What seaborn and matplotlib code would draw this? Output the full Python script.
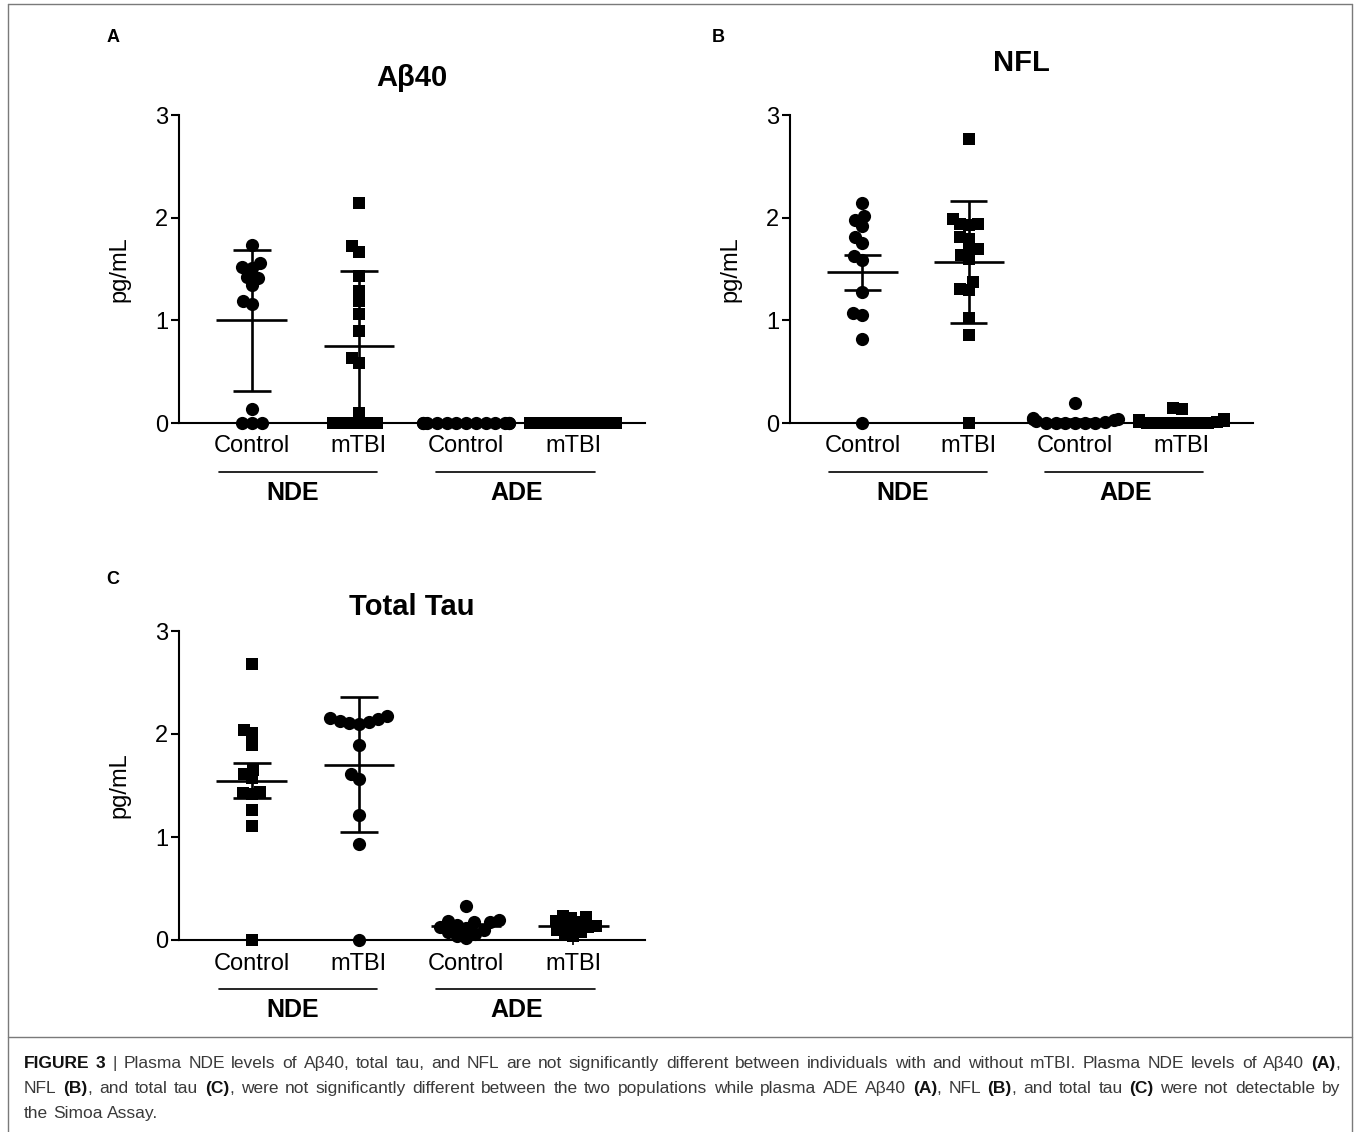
import warnings
import pandas as pd
import matplotlib
matplotlib.use("Agg")
import matplotlib.pyplot as plt
import matplotlib.transforms as mtransforms
import seaborn as sns

warnings.filterwarnings("ignore")

# categories (x positions 0..3) and their tick labels
groups = ["NDE Control", "NDE mTBI", "ADE Control", "ADE mTBI"]
tick_labels = ["Control", "mTBI", "Control", "mTBI"]
brackets = ["NDE", "ADE"]

# --- panel A: Abeta40 (pg/mL) ---
abeta_nde_control = [1.73, 1.52, 1.56, 1.51, 1.42, 1.41, 1.34, 1.19, 1.16, 0.14, 0, 0, 0]
abeta_nde_mtbi = [2.14, 1.72, 1.67, 1.43, 1.29, 1.19, 1.06, 0.90, 0.63, 0.585, 0.10,
                  0, 0, 0, 0, 0, 0]
abeta_ade_control = [0] * 13
abeta_ade_mtbi = [0] * 17

# --- panel B: NFL ---
nfl_nde_control = [2.14, 2.02, 1.92, 1.98, 1.75, 1.81, 1.63, 1.59, 1.28, 1.05, 1.07, 0.82, 0]
nfl_nde_mtbi = [2.77, 1.99, 1.94, 1.93, 1.94, 1.81, 1.79, 1.69, 1.64, 1.69, 1.60, 1.37,
                1.30, 1.31, 1.02, 0.86, 0]
nfl_ade_control = [0.19, 0.05, 0.04, 0.04, 0.03, 0.02, 0.01, 0, 0, 0, 0, 0, 0]
nfl_ade_mtbi = [0.15, 0.14, 0.04, 0.03, 0.03, 0.02, 0.02, 0.01, 0.01, 0, 0, 0, 0, 0, 0, 0, 0]

# --- panel C: total tau ---
tau_nde_control = [2.68, 2.04, 2.01, 1.89, 1.65, 1.61, 1.57, 1.44, 1.42, 1.43, 1.26, 1.11, 0]
tau_nde_mtbi = [2.15, 2.17, 2.13, 2.10, 2.11, 2.16, 2.12, 1.89, 1.61, 1.56, 1.21, 0.93, 0]
tau_ade_control = [0.33, 0.19, 0.18, 0.17, 0.17, 0.15, 0.13, 0.12, 0.10, 0.08, 0.06, 0.04, 0.02]
tau_ade_mtbi = [0.23, 0.22, 0.21, 0.18, 0.17, 0.15, 0.14, 0.13, 0.12, 0.10, 0.08, 0.06, 0.04]

caption_lines = [
    "*FIGURE 3* | Plasma NDE levels of Aβ40, total tau, and NFL are not significantly different "
    "between individuals with and without mTBI. Plasma NDE levels of Aβ40 *(A)*,",
    "NFL *(B)*, and total tau *(C)*, were not significantly different between the two populations "
    "while plasma ADE Aβ40 *(A)*, NFL *(B)*, and total tau *(C)* were not detectable by",
    "the Simoa Assay.",
]

sns.set_theme(style="ticks")
plt.rcParams["font.family"] = ["Liberation Sans", "DejaVu Sans"]
cap_font = ["Liberation Sans Narrow", "Liberation Sans", "DejaVu Sans"]

W, H = 1360, 1132
fig = plt.figure(figsize=(W / 100, H / 100), dpi=100)


def px_axes(left, top, right, bottom):
    return fig.add_axes([left / W, 1 - bottom / H, (right - left) / W, (bottom - top) / H])


def draw_panel(ax, title, values, markers, err_types, title_pad):
    rows = []
    for g, vals in zip(groups, values):
        rows += [(g, v) for v in vals]
    df = pd.DataFrame(rows, columns=["group", "value"])

    for g, m in zip(groups, markers):
        sub = df[df["group"] == g]
        n_before = len(ax.collections)
        sns.swarmplot(data=sub, x="group", y="value", order=groups, marker=m,
                      color="black", size=9.5 if m == "o" else 8.5,
                      linewidth=0, ax=ax, clip_on=False, zorder=3, warn_thresh=1)
        # GraphPad packs the dots tighter than the marker size (they overlap);
        # let the beeswarm layout see a smaller marker than the one drawn
        for pts in ax.collections[n_before:]:
            packed = pts.get_sizes().copy() * 0.5
            pts.get_sizes = lambda s=packed: s

    stats = df.groupby("group", sort=False)["value"].agg(["mean", "std", "sem"])
    for i, g in enumerate(groups):
        mu = stats.loc[g, "mean"]
        e = stats.loc[g, err_types[i]]
        lo = max(mu - e, 0)
        ax.hlines(mu, i - 0.33, i + 0.33, color="black", lw=1.9, zorder=4, clip_on=False)
        ax.vlines(i, lo, mu + e, color="black", lw=1.9, zorder=4, clip_on=False)
        ax.hlines([lo, mu + e], i - 0.175, i + 0.175, color="black", lw=1.9, zorder=4,
                  clip_on=False)

    ax.set_xlim(-0.68, 3.67)
    ax.set_ylim(0, 3)
    ax.set_yticks([0, 1, 2, 3])
    ax.set_yticklabels(["0", "1", "2", "3"])
    ax.set_xticks(range(4))
    ax.set_xticklabels(tick_labels)
    ax.set_xlabel("")
    ax.set_ylabel("pg/mL", fontsize=17, color="black")
    ax.yaxis.set_label_coords(-0.105, 0.5)
    ax.set_title(title, fontsize=21, fontweight="bold", pad=title_pad, color="black")
    ax.tick_params(axis="y", length=6, width=1.5, labelsize=17, pad=2, colors="black")
    ax.tick_params(axis="x", length=3.5, width=1.2, labelsize=17, pad=5.5, colors="black")
    for s in ["top", "right"]:
        ax.spines[s].set_visible(False)
    for s in ["left", "bottom"]:
        ax.spines[s].set_linewidth(1.5)
        ax.spines[s].set_color("black")

    # NDE / ADE brackets under the tick labels
    trans = mtransforms.blended_transform_factory(ax.transData, ax.transAxes)
    for (x0, x1), xt, lab in zip([(-0.31, 1.17), (1.72, 3.20)], [0.38, 2.47], brackets):
        ax.plot([x0, x1], [-0.159, -0.159], color="black", lw=1.2, transform=trans,
                clip_on=False)
        ax.text(xt, -0.226, lab, transform=trans, ha="center", va="center",
                fontsize=18, fontweight="bold", color="black")


axA = px_axes(179, 115, 645, 423)
draw_panel(axA, "Aβ40",
           [abeta_nde_control, abeta_nde_mtbi, abeta_ade_control, abeta_ade_mtbi],
           ["o", "s", "o", "s"], ["std", "std", "sem", "sem"], 21)

axB = px_axes(790, 115, 1253, 423)
draw_panel(axB, "NFL",
           [nfl_nde_control, nfl_nde_mtbi, nfl_ade_control, nfl_ade_mtbi],
           ["o", "s", "o", "s"], ["sem", "std", "sem", "sem"], 32)

axC = px_axes(179, 631, 645, 940)
draw_panel(axC, "Total Tau",
           [tau_nde_control, tau_nde_mtbi, tau_ade_control, tau_ade_mtbi],
           ["s", "o", "o", "s"], ["sem", "std", "sem", "sem"], 11.5)

# panel letters
for x, y, lab in [(113, 38, "A"), (718, 38, "B"), (113, 580, "C")]:
    fig.text(x / W, 1 - y / H, lab, ha="center", va="center", fontsize=13,
             fontweight="bold", color="black")

# frame and caption separator
frame_kw = dict(color="#7a7a7a", lw=1.0, transform=fig.transFigure)
fig.add_artist(plt.Line2D([8 / W, 8 / W], [0, 1 - 4 / H], **frame_kw))
fig.add_artist(plt.Line2D([1352 / W, 1352 / W], [0, 1 - 4 / H], **frame_kw))
fig.add_artist(plt.Line2D([8 / W, 1352 / W], [1 - 4 / H, 1 - 4 / H], **frame_kw))
fig.add_artist(plt.Line2D([8 / W, 1352 / W], [1 - 1037 / H, 1 - 1037 / H], **frame_kw))


# justified caption with bold runs marked by *...*
def draw_caption(lines, x0, x1, baselines, size):
    renderer = fig.canvas.get_renderer()
    ident = mtransforms.IdentityTransform()

    def width(s, b):
        t = fig.text(0, 0, s, fontsize=size, family=cap_font,
                     fontweight="bold" if b else "normal")
        w = t.get_window_extent(renderer).width
        t.remove()
        return w

    space = width("a b", False) - width("ab", False)
    bold = False
    for li, (line, yb) in enumerate(zip(lines, baselines)):
        words = []
        for w in line.split(" "):
            pieces = []
            for k, p in enumerate(w.split("*")):
                if k > 0:
                    bold = not bold
                if p:
                    pieces.append((p, bold))
            words.append(pieces)
        widths = [sum(width(p, b) for p, b in pieces) for pieces in words]
        if li < len(lines) - 1 and len(words) > 1:
            gap = (x1 - x0 - sum(widths)) / (len(words) - 1)
        else:
            gap = space
        x = x0
        for pieces, wd in zip(words, widths):
            xx = x
            for p, b in pieces:
                fig.text(xx, H - yb, p, transform=ident, fontsize=size, family=cap_font,
                         fontweight="bold" if b else "normal", va="baseline",
                         color="#111111" if b else "#3a3a3a")
                xx += width(p, b)
            x += wd + gap


draw_caption(caption_lines, 24, 1340, [1068, 1093, 1118], 12.5)

fig.savefig("out.png", dpi=100)
